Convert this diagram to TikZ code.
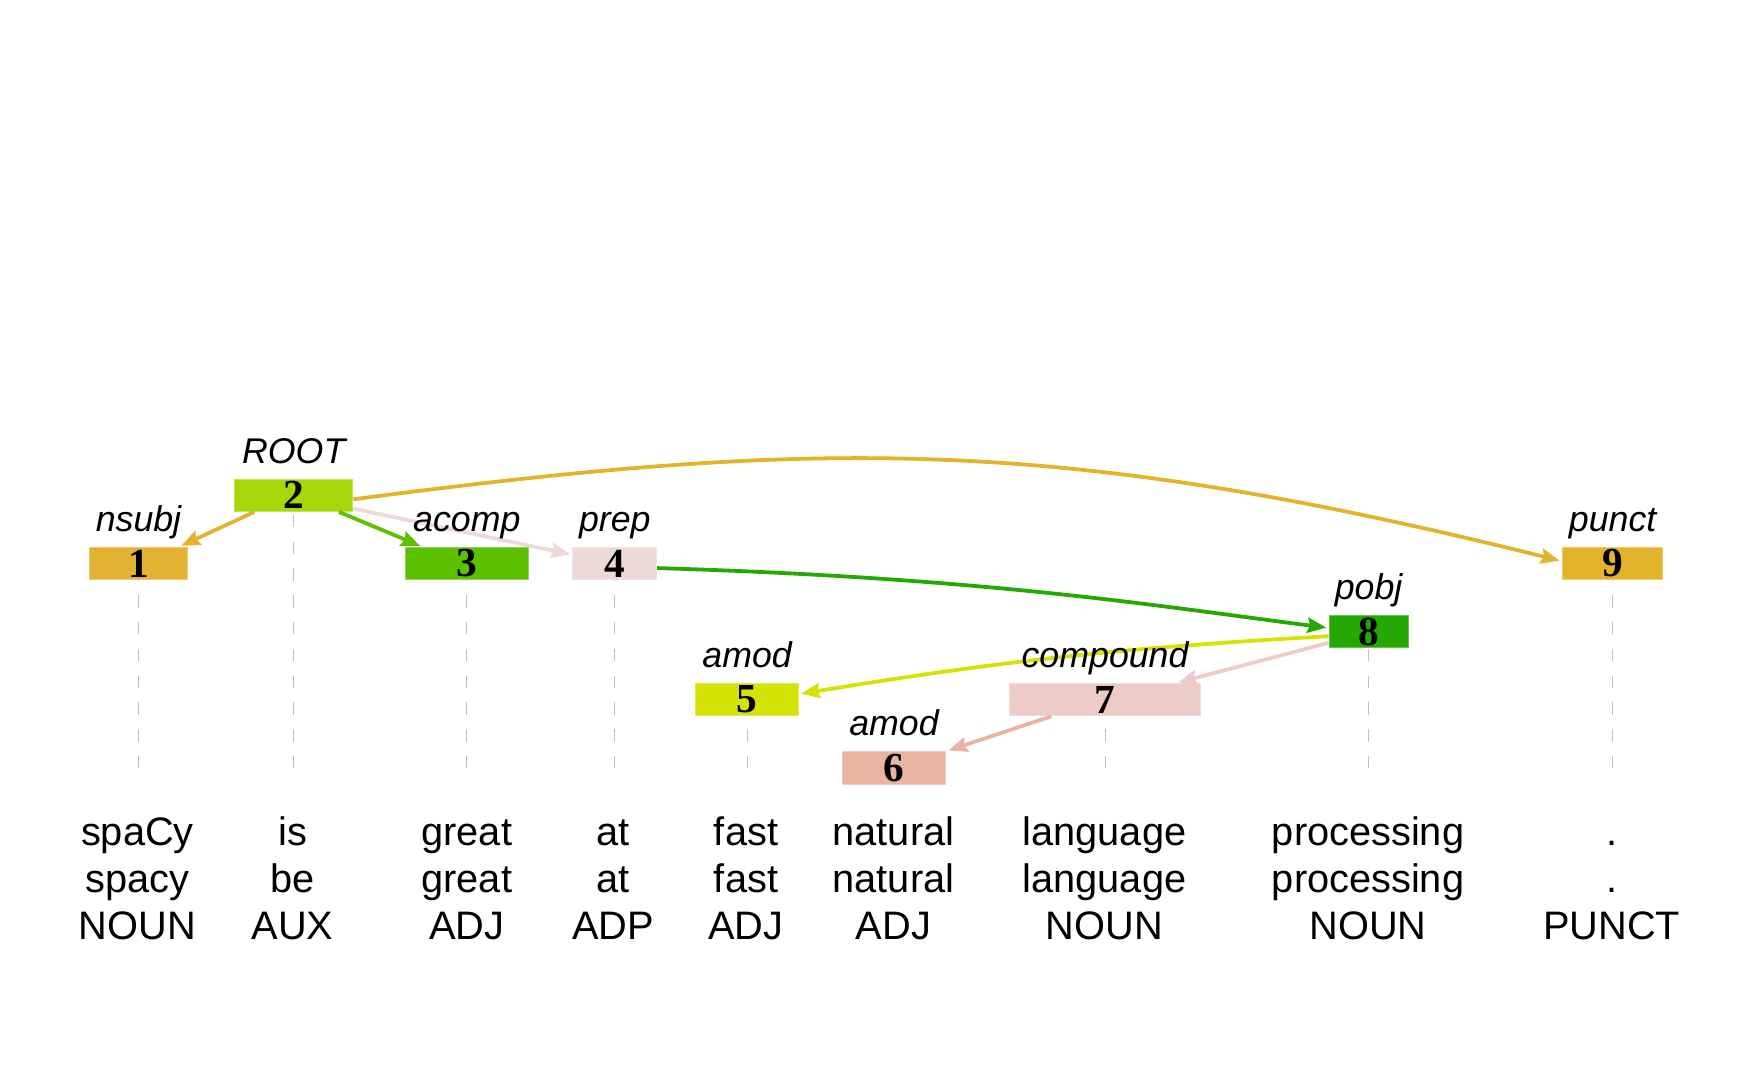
\documentclass[tikz,border=0pt]{standalone}
\usepackage{fontspec}
\setmainfont{Liberation Sans}
\newfontfamily\numfont{Liberation Serif}
\usetikzlibrary{calc,arrows.meta}
\definecolor{cA}{HTML}{E3B232}
\definecolor{cB}{HTML}{A6D70B}
\definecolor{cC}{HTML}{5EC100}
\definecolor{cD}{HTML}{EDD9D9}
\definecolor{cE}{HTML}{D4E305}
\definecolor{cF}{HTML}{EAB4A2}
\definecolor{cG}{HTML}{EDCCC7}
\definecolor{cH}{HTML}{25A804}
\definecolor{cI}{HTML}{E3B42B}
\begin{document}
\begin{tikzpicture}[x=0.5pt,y=-0.5pt,
  box/.style={rectangle, inner sep=0pt, minimum height=14.5pt, line width=0.4pt, font=\numfont\fontsize{18.5}{18.5}\selectfont\bfseries},
  lab/.style={anchor=base, inner sep=0pt, font=\fontsize{16}{16}\selectfont\itshape},
  word/.style={anchor=base, inner sep=0pt, font=\fontsize{17.8}{17.8}\selectfont},
  arr/.style={line width=1.7pt, -{Stealth[length=8.5pt,width=6.8pt,inset=1.2pt]}, shorten >=1pt},
  guide/.style={draw=black!25, line width=0.5pt, dash pattern=on 5.5pt off 6.5pt}]
\useasboundingbox (0,0) rectangle (1567,968);
\coordinate (gbot) at (0,688);
% boxes
\node[box, fill=cA, draw=cA!70!white, minimum width=44pt]   (b1) at (124,504.5)  {1};
\node[box, fill=cB, draw=cB!70!white, minimum width=53pt]   (b2) at (263,443.5)  {2};
\node[box, fill=cC, draw=cC!70!white, minimum width=55pt]   (b3) at (418,504.5)  {3};
\node[box, fill=cD, draw=cD!70!white, minimum width=37.5pt] (b4) at (550.5,504.5){4};
\node[box, fill=cE, draw=cE!70!white, minimum width=46pt]   (b5) at (669,626.5)  {5};
\node[box, fill=cF, draw=cF!70!white, minimum width=46.5pt] (b6) at (800.5,687.5){6};
\node[box, fill=cG, draw=cG!70!white, minimum width=85.5pt] (b7) at (989.5,626.5){7};
\node[box, fill=cH, draw=cH!70!white, minimum width=35.5pt] (b8) at (1225.5,565.5){8};
\node[box, fill=cI, draw=cI!70!white, minimum width=45pt]   (b9) at (1444,504.5) {9};
% guides
\foreach \b in {b1,b2,b3,b4,b5,b7,b8,b9}{
  \draw[guide] (\b.south |- gbot) -- (\b.south);
}
% arcs
\draw[arr, cA] ($(b2.south west)!0.17!(b2.south east)$) -- ($(b1.north west)!0.91!(b1.north east)$);
\draw[arr, cC] ($(b2.south west)!0.88!(b2.south east)$) -- ($(b3.north west)!0.14!(b3.north east)$);
\draw[arr, cD] ($(b2.north east)!0.9!(b2.south east)$) -- ($(b4.north west)!0.24!(b4.south west)$);
\draw[arr, cI] ($(b2.north east)!0.62!(b2.south east)$) .. controls +(420,-55) and +(-450,-112) .. ([yshift=1pt]b9.west);
\draw[arr, cH] ($(b4.north east)!0.64!(b4.south east)$) .. controls +(300,9) and +(-150,-19) .. ($(b8.north west)!0.39!(b8.south west)$);
\draw[arr, cE] ($(b8.north west)!0.64!(b8.south west)$) to[bend right=3] ($(b5.north east)!0.33!(b5.south east)$);
\draw[arr, cG] ($(b8.north west)!0.84!(b8.south west)$) -- ($(b7.north west)!0.87!(b7.north east)$);
\draw[arr, cF] ($(b7.south west)!0.22!(b7.south east)$) -- (b6.north east);
% labels
\node[lab] (l1) at (124,476)  {nsubj};
\node[lab] (l2) at (263,415)  {ROOT};
\node[lab] (l3) at (418,476)  {acomp};
\node[lab] (l4) at (550.5,476){prep};
\node[lab] (l5) at (669,598)  {amod};
\node[lab] (l6) at (800.5,659){amod};
\node[lab] (l7) at (989.5,598){compound};
\node[lab] (l8) at (1225.5,537){pobj};
\node[lab] (l9) at (1444,476) {punct};
% words
\node[word] (w1a) at (123,757) {spaCy};
\node[word] (w1b) at (123,799) {spacy};
\node[word] (w1c) at (123,841) {NOUN};
\node[word] (w2a) at (262,757) {is};
\node[word] (w2b) at (262,799) {be};
\node[word] (w2c) at (262,841) {AUX};
\node[word] (w3a) at (418,757) {great};
\node[word] (w3b) at (418,799) {great};
\node[word] (w3c) at (418,841) {ADJ};
\node[word] (w4a) at (549,757) {at};
\node[word] (w4b) at (549,799) {at};
\node[word] (w4c) at (549,841) {ADP};
\node[word] (w5a) at (668,757) {fast};
\node[word] (w5b) at (668,799) {fast};
\node[word] (w5c) at (668,841) {ADJ};
\node[word] (w6a) at (800,757) {natural};
\node[word] (w6b) at (800,799) {natural};
\node[word] (w6c) at (800,841) {ADJ};
\node[word] (w7a) at (989,757) {language};
\node[word] (w7b) at (989,799) {language};
\node[word] (w7c) at (989,841) {NOUN};
\node[word] (w8a) at (1225,757) {processing};
\node[word] (w8b) at (1225,799) {processing};
\node[word] (w8c) at (1225,841) {NOUN};
\node[word] (w9a) at (1443,757) {.};
\node[word] (w9b) at (1443,799) {.};
\node[word] (w9c) at (1443,841) {PUNCT};
\end{tikzpicture}
\end{document}
